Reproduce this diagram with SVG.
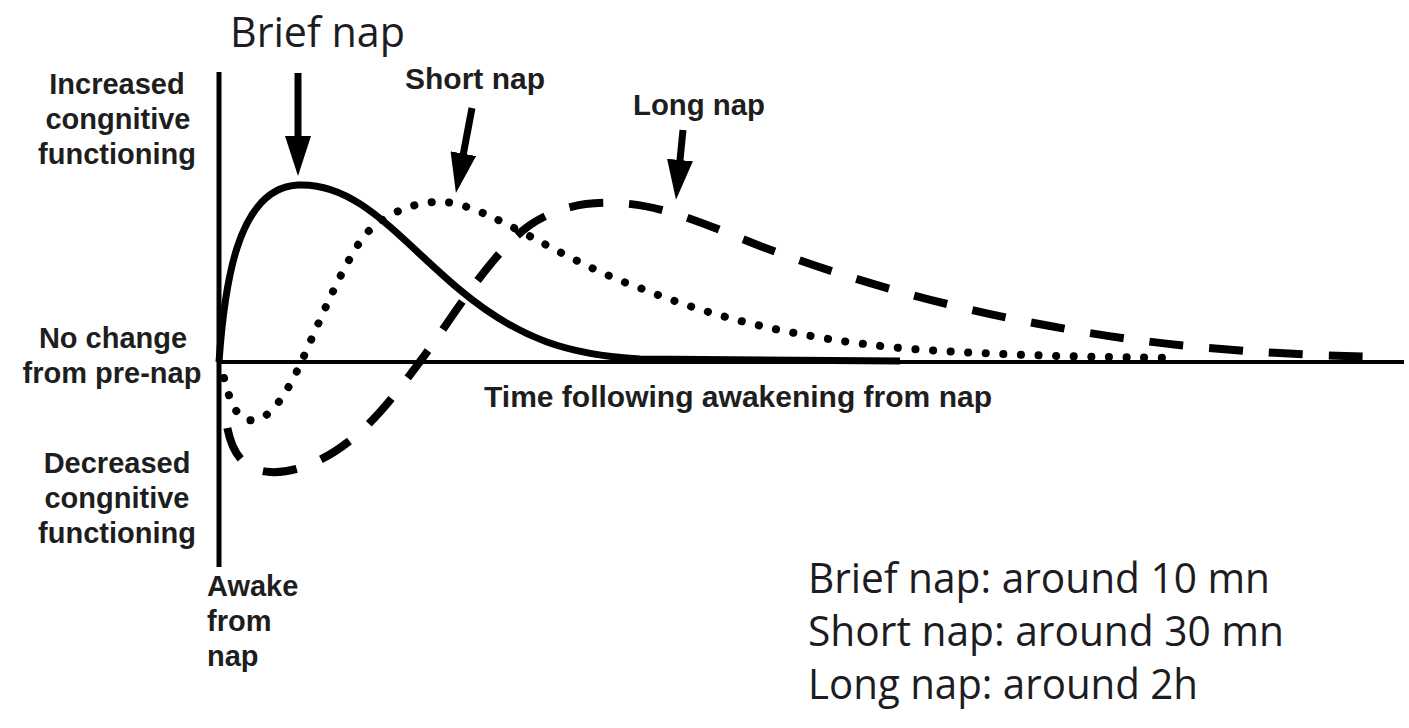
<svg xmlns="http://www.w3.org/2000/svg" width="1409" height="728" viewBox="0 0 1409 728">
  <defs>
    <style>
      .lbl { font-family: "Liberation Sans", Arial, Helvetica, sans-serif; font-weight: bold; font-size: 29px; fill: #1e1e1e; }
      .mid { text-anchor: middle; }
      .cal { font-family: "Open Sans", "Noto Sans", "Liberation Sans", sans-serif; font-size: 42px; fill: #1c1c22; }
      .axis { stroke: #000; fill: none; stroke-linecap: butt; }
      .curve { fill: none; stroke: #000; }
      .arrow { stroke: #000; stroke-width: 7; fill: none; marker-end: url(#head); }
    </style>
    <marker id="head" viewBox="0 0 40 26" refX="10" refY="13" markerWidth="40" markerHeight="26" markerUnits="userSpaceOnUse" orient="auto">
      <path d="M0,0 L40,13 L0,26 Z" fill="#000"/>
    </marker>
  </defs>
  <rect width="1409" height="728" fill="#fff"/>

  <g id="axes">
    <line class="axis" x1="219" y1="72" x2="219" y2="567" stroke-width="5"/>
    <line class="axis" x1="217" y1="362" x2="1404" y2="362" stroke-width="4"/>
  </g>

  <g id="curves">
    <path id="brief-curve" class="curve" stroke-width="7" d="M219,362 C224,290 236,188 298,185 C358,182 400,240 460,290 C520,340 570,355 640,359 L900,361"/>
    <path id="short-curve" class="curve" stroke-width="8" stroke-linecap="round" stroke-dasharray="0.1 17.5" d="M224,378 C232,410 240,422 255,420 C272,418 288,390 300,365 C320,320 345,260 365,235 C385,212 420,200 445,202 C490,206 560,260 640,288 C720,320 800,338 900,348 C1000,356 1100,357 1175,358"/>
    <path id="long-curve" class="curve" stroke-width="8" stroke-dasharray="34 26" stroke-dashoffset="52" d="M226,420 C230,448 240,470 270,472 C300,474 335,455 360,432 C385,410 410,375 430,348 C460,305 495,250 530,225 C560,205 590,202 615,203 C660,204 700,222 760,246 C850,280 950,308 1050,326 C1150,345 1250,354 1380,357"/>
  </g>

  <g id="connectors">
    <line class="arrow" x1="298" y1="73" x2="298" y2="146"/>
    <line class="arrow" x1="472" y1="108" x2="461.5" y2="163.5"/>
    <line class="arrow" x1="683" y1="130" x2="679" y2="170"/>
  </g>

  <g id="label-brief">
    <text class="cal" x="230" y="47" textLength="175" lengthAdjust="spacingAndGlyphs">Brief nap</text>
  </g>
  <g id="label-short">
    <text class="lbl" x="405" y="89" textLength="140" lengthAdjust="spacingAndGlyphs">Short nap</text>
  </g>
  <g id="label-long">
    <text class="lbl" x="633" y="115" textLength="132" lengthAdjust="spacingAndGlyphs">Long nap</text>
  </g>

  <g id="label-increased">
    <text class="lbl mid" x="117" y="94">Increased</text>
    <text class="lbl mid" x="118" y="129">congnitive</text>
    <text class="lbl mid" x="117" y="164">functioning</text>
  </g>
  <g id="label-nochange">
    <text class="lbl mid" x="113" y="348">No change</text>
    <text class="lbl mid" x="112" y="383">from pre-nap</text>
  </g>
  <g id="label-decreased">
    <text class="lbl mid" x="117" y="473">Decreased</text>
    <text class="lbl mid" x="117" y="508">congnitive</text>
    <text class="lbl mid" x="117" y="543">functioning</text>
  </g>
  <g id="label-awake">
    <text class="lbl" x="207" y="596">Awake</text>
    <text class="lbl" x="207" y="631">from</text>
    <text class="lbl" x="207" y="666">nap</text>
  </g>
  <g id="label-time">
    <text class="lbl" x="484" y="407" textLength="508" lengthAdjust="spacingAndGlyphs">Time following awakening from nap</text>
  </g>

  <g id="legend">
    <text class="cal" x="808" y="593" textLength="462" lengthAdjust="spacingAndGlyphs">Brief nap: around 10 mn</text>
    <text class="cal" x="808" y="646" textLength="476" lengthAdjust="spacingAndGlyphs">Short nap: around 30 mn</text>
    <text class="cal" x="808" y="699" textLength="390" lengthAdjust="spacingAndGlyphs">Long nap: around 2h</text>
  </g>
</svg>
